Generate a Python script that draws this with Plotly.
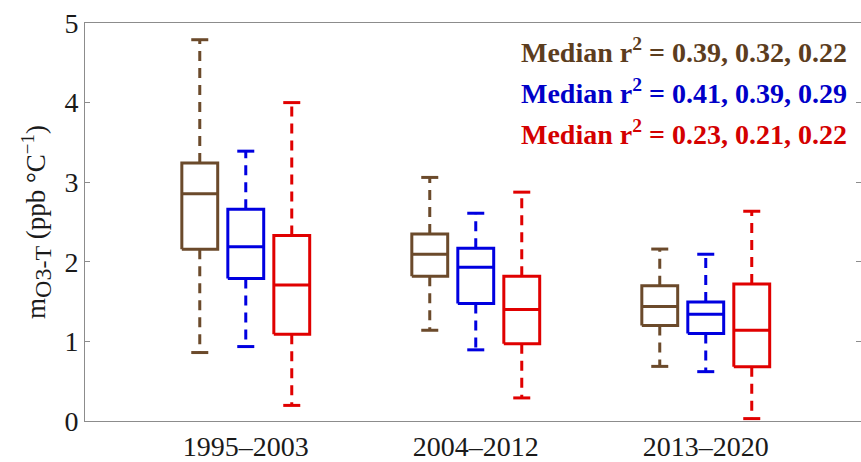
import plotly.graph_objects as go

periods = ["1995–2003", "2004–2012", "2013–2020"]
series_names = ["brown", "blue", "red"]
box_colors = ["#6b4a2b", "#0000e0", "#e00000"]
text_colors = ["#5c3d1e", "#0000c8", "#d40000"]

# per series: values for the three periods
lower = {"brown": [0.86, 1.14, 0.686], "blue": [0.935, 0.894, 0.62], "red": [0.196, 0.29, 0.03]}
q1 = {"brown": [2.157, 1.82, 1.20], "blue": [1.79, 1.475, 1.10], "red": [1.09, 0.97, 0.68]}
median = {"brown": [2.855, 2.095, 1.44], "blue": [2.19, 1.93, 1.34], "red": [1.71, 1.40, 1.14]}
q3 = {"brown": [3.24, 2.35, 1.70], "blue": [2.66, 2.17, 1.496], "red": [2.33, 1.82, 1.72]}
upper = {"brown": [4.79, 3.06, 2.16], "blue": [3.39, 2.61, 2.095], "red": [4.0, 2.875, 2.635]}

r2_text = ["0.39, 0.32, 0.22", "0.41, 0.39, 0.29", "0.23, 0.21, 0.22"]
y_ticks = [0, 1, 2, 3, 4, 5]

offsets = [-0.2, 0.0, 0.2]
half_w = 0.078
cap_w = 0.037

fig = go.Figure()
for si, name in enumerate(series_names):
    col = box_colors[si]
    bx, by, wx, wy, cx, cy = [], [], [], [], [], []
    for g in range(len(periods)):
        xc = g + offsets[si]
        l, a, m, b, u = lower[name][g], q1[name][g], median[name][g], q3[name][g], upper[name][g]
        bx += [xc - half_w, xc + half_w, xc + half_w, xc - half_w, xc - half_w, None,
               xc - half_w, xc + half_w, None]
        by += [a, a, b, b, a, None, m, m, None]
        wx += [xc, xc, None, xc, xc, None]
        wy += [b, u, None, a, l, None]
        cx += [xc - cap_w, xc + cap_w, None, xc - cap_w, xc + cap_w, None]
        cy += [u, u, None, l, l, None]
    fig.add_trace(go.Scatter(x=wx, y=wy, mode="lines", line=dict(color=col, width=3, dash="10px,7px"),
                             hoverinfo="skip", showlegend=False))
    fig.add_trace(go.Scatter(x=cx, y=cy, mode="lines", line=dict(color=col, width=3),
                             hoverinfo="skip", showlegend=False))
    fig.add_trace(go.Scatter(x=bx, y=by, mode="lines", line=dict(color=col, width=3),
                             hoverinfo="skip", showlegend=False))

# invisible trace on the right axis so it shows its inside ticks
fig.add_trace(go.Scatter(x=[None], y=[None], yaxis="y2", showlegend=False, hoverinfo="skip"))

ann_y = [4.65, 4.14, 3.63]
for i in range(3):
    fig.add_annotation(x=0.9845, xref="paper", y=ann_y[i], yref="y", xanchor="right", yanchor="middle",
                       showarrow=False,
                       text="<b>Median r<sup>2</sup> = " + r2_text[i] + "</b>",
                       font=dict(family="Liberation Serif", size=28, color=text_colors[i]))

axis_grey = "#8c8c8c"
fig.update_layout(
    width=861, height=462,
    margin=dict(l=85, r=0, t=23, b=38),
    paper_bgcolor="white", plot_bgcolor="white",
    font=dict(family="Liberation Serif", size=27, color="#1a1a1a"),
    xaxis=dict(range=[-0.699, 2.675], tickvals=[0, 1, 2], ticktext=periods, showgrid=False,
               zeroline=False, showline=True, linecolor=axis_grey, linewidth=1, mirror=True,
               ticks="", tickfont=dict(size=28)),
    yaxis=dict(range=[0, 5], tickvals=y_ticks, showgrid=False, zeroline=False, showline=True,
               linecolor=axis_grey, linewidth=1, ticks="inside", ticklen=5,
               tickcolor=axis_grey, tickfont=dict(size=28),
               title=dict(text="m<sub><span style='font-size:24px'>O3-T</span></sub> (ppb °C<sup>−1</sup>)",
                          font=dict(size=27), standoff=10)),
    yaxis2=dict(range=[0, 5], tickvals=y_ticks, overlaying="y", side="right", showgrid=False,
                zeroline=False, showline=False, ticks="inside", ticklen=5, tickcolor=axis_grey,
                showticklabels=False),
)

fig.write_html("out.html")
